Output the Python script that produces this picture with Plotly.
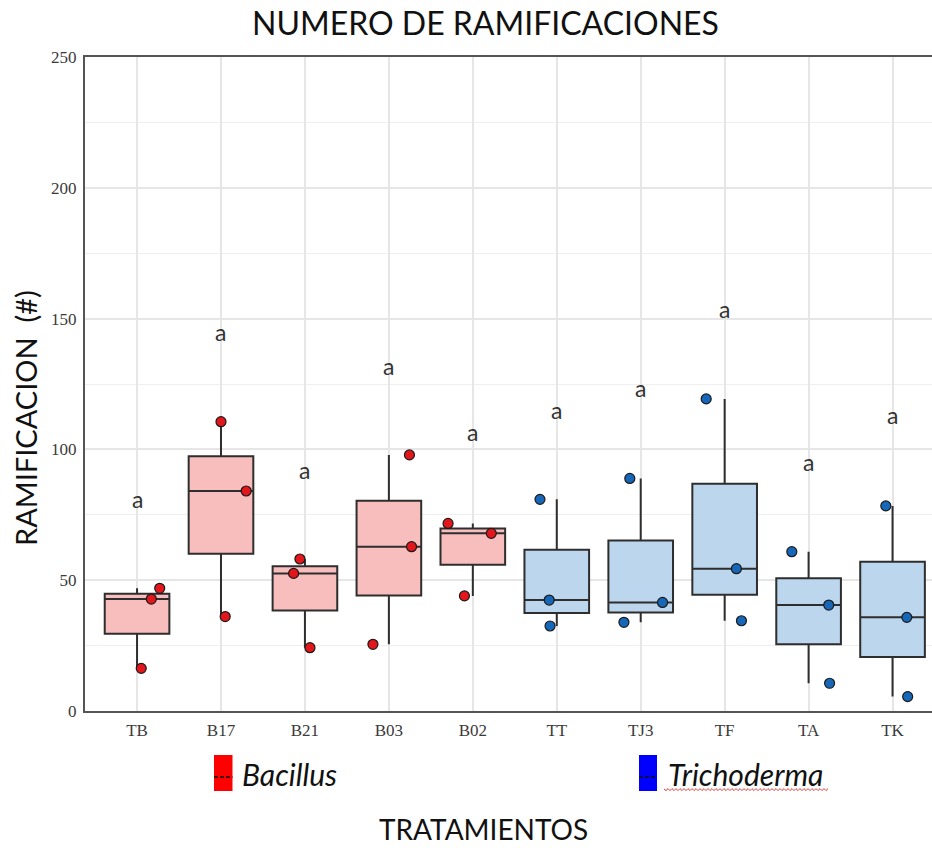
import plotly.graph_objects as go

# ---------------- data ----------------
categories = ["TB", "B17", "B21", "B03", "B02", "TT", "TJ3", "TF", "TA", "TK"]
group_of = ["Bacillus"] * 5 + ["Trichoderma"] * 5

tb = [16.3, 42.8, 46.9]
b17 = [36.1, 84.1, 110.6]
b21 = [24.2, 52.6, 58.1]
b03 = [25.5, 62.8, 97.9]
b02 = [44.0, 67.9, 71.7]
tt = [32.5, 42.4, 80.9]
tj3 = [33.9, 41.5, 88.9]
tf = [34.5, 54.4, 119.3]
ta = [10.6, 40.5, 60.9]
tk = [5.5, 35.8, 78.4]
ramificaciones = [tb, b17, b21, b03, b02, tt, tj3, tf, ta, tk]

letters = ["a"] * 10
letter_y = [81, 145, 92, 132, 106.5, 115, 123.6, 153.6, 95.3, 113]

# horizontal jitter of the points (style only)
jitter = [
    [0.05, 0.17, 0.27], [0.05, 0.30, 0.0], [0.06, -0.135, -0.06],
    [-0.19, 0.27, 0.245], [-0.10, 0.22, -0.295], [-0.08, -0.09, -0.2],
    [-0.2, 0.26, -0.13], [0.2, 0.14, -0.22], [0.25, 0.24, -0.2],
    [0.18, 0.17, -0.08],
]

styles = {
    "Bacillus": dict(fill="#F8BEBE", point="#E3161B", legend="#FF0000"),
    "Trichoderma": dict(fill="#BCD6EE", point="#1767B8", legend="#0000FF"),
}

W, H = 932, 848
L, R, T, B = 85, 932, 57, 711


def px(x):
    return (x - L) / (R - L)


def py(y):
    return (B - y) / (B - T)


fig = go.Figure()

for grp in ["Bacillus", "Trichoderma"]:
    xs, ys = [], []
    for i, (c, g) in enumerate(zip(categories, group_of)):
        if g != grp:
            continue
        for v in ramificaciones[i]:
            xs.append(i)
            ys.append(v)
    fig.add_trace(go.Box(
        x=xs, y=ys, name=grp, boxpoints=False, quartilemethod="inclusive",
        width=0.77, whiskerwidth=0, fillcolor=styles[grp]["fill"],
        line=dict(color="#2e2e2e", width=2), showlegend=False,
    ))

for grp in ["Bacillus", "Trichoderma"]:
    xs, ys = [], []
    for i, (c, g) in enumerate(zip(categories, group_of)):
        if g != grp:
            continue
        for v, j in zip(ramificaciones[i], jitter[i]):
            xs.append(i + j)
            ys.append(v)
    fig.add_trace(go.Scatter(
        x=xs, y=ys, mode="markers", showlegend=False,
        marker=dict(size=10, color=styles[grp]["point"],
                    line=dict(color="#1a1a1a", width=1.2)),
    ))

for i, (t, yv) in enumerate(zip(letters, letter_y)):
    fig.add_annotation(x=i, y=yv, text=t, showarrow=False,
                       xanchor="center", yanchor="middle",
                       font=dict(family="Lato", size=23, color="#333333"))

# titles
fig.add_annotation(xref="paper", yref="paper", x=px(485), y=py(22),
                   xanchor="center", yanchor="middle",
                   text="NUMERO DE RAMIFICACIONES", showarrow=False,
                   font=dict(family="Lato", size=32, color="#111111"))
fig.add_annotation(xref="paper", yref="paper", x=px(483), y=py(829),
                   xanchor="center", yanchor="middle",
                   text="TRATAMIENTOS", showarrow=False,
                   font=dict(family="Lato", size=28, color="#111111"))
fig.add_annotation(xref="paper", yref="paper", x=px(25), y=py(418),
                   xanchor="center", yanchor="middle",
                   text="RAMIFICACION  (#)", showarrow=False, textangle=-90,
                   font=dict(family="Lato", size=29, color="#111111"))

# custom legend
shapes = []
for grp, x0, x1, tx in [("Bacillus", 214, 232.5, 240), ("Trichoderma", 639, 657, 666)]:
    shapes.append(dict(type="rect", xref="paper", yref="paper",
                       x0=px(x0), x1=px(x1), y0=py(791), y1=py(755),
                       fillcolor=styles[grp]["legend"], line=dict(width=0)))
    shapes.append(dict(type="line", xref="paper", yref="paper",
                       x0=px(x0), x1=px(x1), y0=py(777), y1=py(777),
                       line=dict(color="#111111", width=1.5, dash="4px,2px")))
    fig.add_annotation(xref="paper", yref="paper", x=px(tx), y=py(774),
                       xanchor="left", yanchor="middle",
                       text="<i>" + grp + "</i>", showarrow=False,
                       font=dict(family="Lato", size=30, color="#111111"))

# spell-check style wavy underline under Trichoderma
path = "M %f,%f" % (px(664), py(789))
xx = 664
k = 0
while xx < 827:
    xx += 2
    k += 1
    path += " L %f,%f" % (px(xx), py(789 + (1.6 if k % 2 else -0.4)))
shapes.append(dict(type="path", xref="paper", yref="paper", path=path,
                   line=dict(color="#E23A3A", width=1)))

fig.update_layout(
    width=W, height=H,
    margin=dict(l=L, r=W - R, t=T, b=H - B),
    paper_bgcolor="white", plot_bgcolor="white",
    boxmode="overlay", shapes=shapes, showlegend=False,
    xaxis=dict(
        range=[-0.62, 9.47], tickmode="array",
        tickvals=list(range(len(categories))), ticktext=categories,
        showgrid=True, gridcolor="#E6E6E6", gridwidth=1.5, zeroline=False,
        showline=True, mirror=True, linecolor="#555555", linewidth=2,
        tickfont=dict(family="Liberation Serif", size=17, color="#3a3a3a"),
        ticks="", ticklabelstandoff=3,
    ),
    yaxis=dict(
        range=[0, 250], tickvals=[0, 50, 100, 150, 200, 250],
        showgrid=True, gridcolor="#E6E6E6", gridwidth=1.5, zeroline=False,
        showline=True, linecolor="#555555", linewidth=2,
        minor=dict(tickvals=[25, 75, 125, 175, 225], showgrid=True,
                   gridcolor="#EFEFEF", gridwidth=1.2),
        tickfont=dict(family="Liberation Serif", size=17, color="#3a3a3a"),
        ticks="", ticklabelstandoff=3,
    ),
)

fig.write_html("out.html", config={"displayModeBar": False},
               post_script="document.body.style.margin='0px';")
